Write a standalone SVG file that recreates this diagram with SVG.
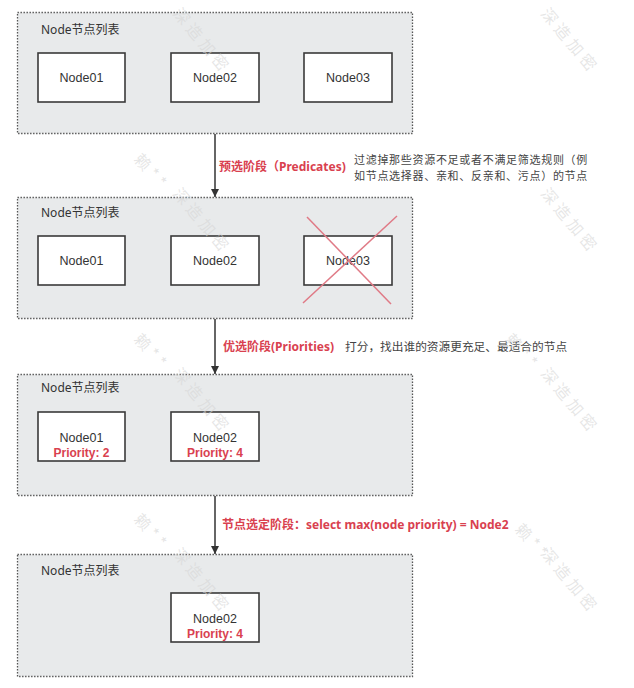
<svg xmlns="http://www.w3.org/2000/svg" width="634" height="688" viewBox="0 0 634 688">
<defs>
<style>
.panel{fill:#e8eaeb;stroke:#555;stroke-width:1.3;stroke-dasharray:1.4 1.6}
.node{fill:#fff;stroke:#3a3a3a;stroke-width:1.6}
.title{font-family:"Noto Sans","Noto Sans CJK SC",sans-serif;font-size:12px;fill:#333}
.nt{font-family:"Liberation Sans",Arial,sans-serif;font-size:12.5px;fill:#333;text-anchor:middle}
.pr{font-family:"Liberation Sans",Arial,sans-serif;font-size:12px;font-weight:bold;fill:#d9414f;text-anchor:middle}
.lbl{font-family:"Noto Sans","Noto Sans CJK SC",sans-serif;font-size:12px;font-weight:bold;fill:#d9414f}
.desc{font-family:"Noto Sans CJK SC","Noto Sans",sans-serif;font-size:11px;letter-spacing:0.7px;fill:#444}
.desc2{font-family:"Noto Sans CJK SC","Noto Sans",sans-serif;font-size:11.7px;fill:#444}
.wm{font-family:"Noto Sans CJK SC",sans-serif;font-size:16px;fill:#d6d6d6;fill-opacity:0.6;letter-spacing:4px}
.conn{stroke:#333;stroke-width:1.5;fill:none}
.cross{stroke:#e07a86;stroke-width:1.5}
</style>
<marker id="arr" viewBox="0 0 10 10" refX="10" refY="5" markerWidth="8" markerHeight="8" markerUnits="userSpaceOnUse" orient="auto">
<path d="M0,0 L10,5 L0,10 z" fill="#333"/>
</marker>
</defs>
<rect width="634" height="688" fill="#fff"/>

<g id="panel1">
<rect class="panel" x="17.5" y="12.5" width="395" height="121"/>
<text class="title" x="41" y="34">Node节点列表</text>
<g id="p1-node01"><rect class="node" x="38" y="53" width="87" height="49"/><text class="nt" x="81.5" y="82">Node01</text></g>
<g id="p1-node02"><rect class="node" x="171" y="53" width="88" height="49"/><text class="nt" x="215" y="82">Node02</text></g>
<g id="p1-node03"><rect class="node" x="304" y="53" width="88" height="49"/><text class="nt" x="348" y="82">Node03</text></g>
</g>

<g id="panel2">
<rect class="panel" x="17.5" y="197.5" width="395" height="121"/>
<text class="title" x="41" y="217">Node节点列表</text>
<g id="p2-node01"><rect class="node" x="38" y="236" width="87" height="49"/><text class="nt" x="81.5" y="265">Node01</text></g>
<g id="p2-node02"><rect class="node" x="171" y="236" width="88" height="49"/><text class="nt" x="215" y="265">Node02</text></g>
<g id="p2-node03"><rect class="node" x="304" y="236" width="88" height="49"/><text class="nt" x="348" y="265">Node03</text>
<line class="cross" x1="307" y1="217" x2="391" y2="304"/>
<line class="cross" x1="397" y1="216" x2="303" y2="303"/>
</g>
</g>

<g id="panel3">
<rect class="panel" x="17.5" y="374.5" width="395" height="121"/>
<text class="title" x="41" y="392">Node节点列表</text>
<g id="p3-node01"><rect class="node" x="38" y="412" width="87" height="49"/><text class="nt" x="81.5" y="442">Node01</text><text class="pr" x="81.5" y="456.5">Priority: 2</text></g>
<g id="p3-node02"><rect class="node" x="171" y="412" width="88" height="49"/><text class="nt" x="215" y="442">Node02</text><text class="pr" x="215" y="456.5">Priority: 4</text></g>
</g>

<g id="panel4">
<rect class="panel" x="17.5" y="554.5" width="395" height="122"/>
<text class="title" x="41" y="575">Node节点列表</text>
<g id="p4-node02"><rect class="node" x="171" y="593" width="88" height="49"/><text class="nt" x="215" y="623">Node02</text><text class="pr" x="215" y="637.5">Priority: 4</text></g>
</g>

<g id="connectors">
<line class="conn" x1="215" y1="134" x2="215" y2="197" marker-end="url(#arr)"/>
<line class="conn" x1="215" y1="319" x2="215" y2="374" marker-end="url(#arr)"/>
<line class="conn" x1="215" y1="496" x2="215" y2="554" marker-end="url(#arr)"/>
<text class="lbl" x="219" y="171">预选阶段（Predicates)</text>
<text class="desc" x="354" y="164">过滤掉那些资源不足或者不满足筛选规则（例</text>
<text class="desc" x="354" y="180">如节点选择器、亲和、反亲和、污点）的节点</text>
<text class="lbl" x="223" y="351">优选阶段(Priorities)</text>
<text class="desc2" x="345" y="351">打分，找出谁的资源更充足、最适合的节点</text>
<text class="lbl" x="222" y="529">节点选定阶段：select max(node priority) = Node2</text>
</g>

<g id="watermarks">
<text class="wm" transform="translate(172,14) rotate(50)">深造加密</text>
<text class="wm" transform="translate(172,194) rotate(50)">深造加密</text>
<text class="wm" transform="translate(172,374) rotate(50)">深造加密</text>
<text class="wm" transform="translate(172,554) rotate(50)">深造加密</text>
<text class="wm" transform="translate(540,14) rotate(50)">深造加密</text>
<text class="wm" transform="translate(540,194) rotate(50)">深造加密</text>
<text class="wm" transform="translate(540,374) rotate(50)">深造加密</text>
<text class="wm" transform="translate(540,554) rotate(50)">深造加密</text>
<text class="wm" transform="translate(133,160) rotate(48)">赖**</text>
<text class="wm" transform="translate(133,340) rotate(48)">赖**</text>
<text class="wm" transform="translate(133,520) rotate(48)">赖**</text>
<text class="wm" transform="translate(504,340) rotate(48)">赖**</text>
<text class="wm" transform="translate(514,530) rotate(48)">赖**</text>
</g>
</svg>
